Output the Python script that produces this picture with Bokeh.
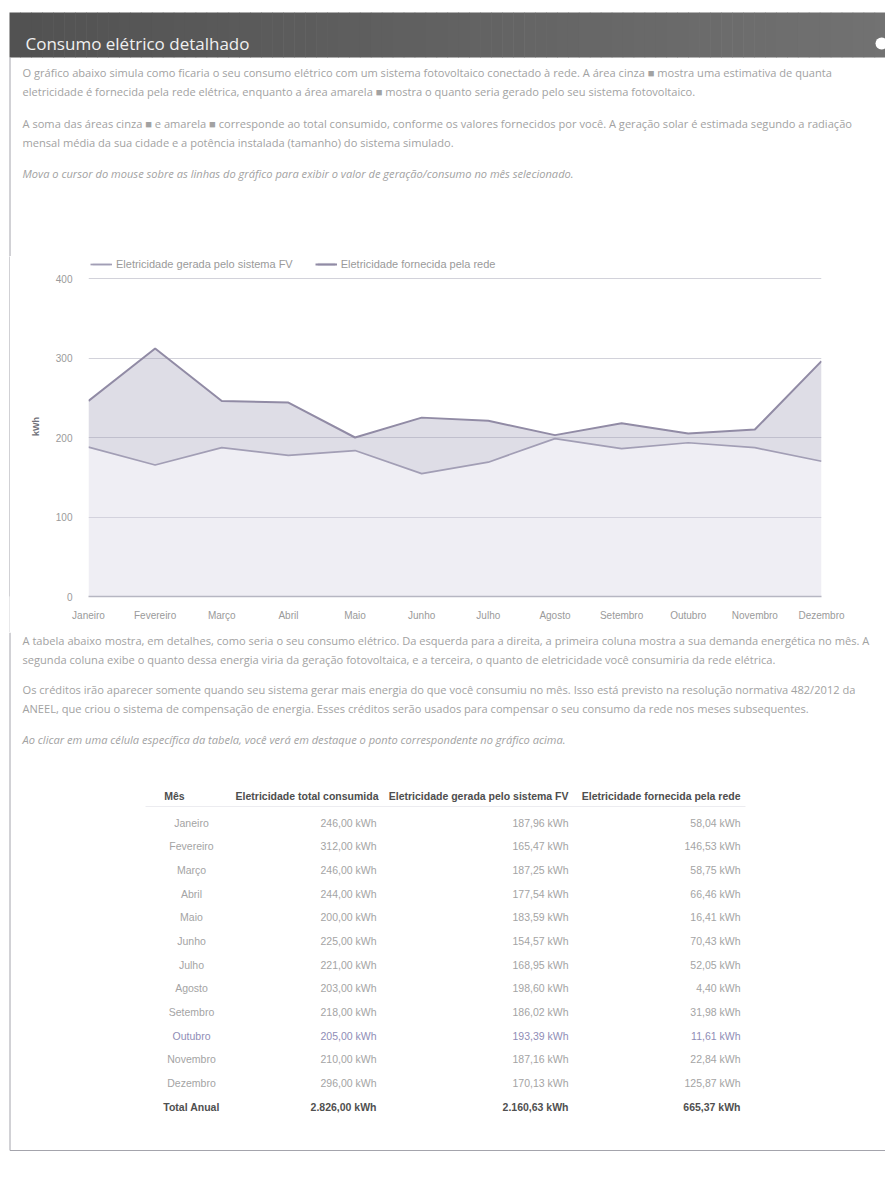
import numpy as np
from bokeh.plotting import figure
from bokeh.models import Range1d, FixedTicker, Legend, LegendItem, ColumnDataSource, Spacer
from bokeh.layouts import column, row
from bokeh.embed import file_html
from bokeh.resources import INLINE
from bokeh.core.properties import value

# ---------------- data ----------------
months = ["Janeiro", "Fevereiro", "Março", "Abril", "Maio", "Junho", "Julho",
          "Agosto", "Setembro", "Outubro", "Novembro", "Dezembro"]
consumo = [246.00, 312.00, 246.00, 244.00, 200.00, 225.00, 221.00, 203.00, 218.00, 205.00, 210.00, 296.00]
geracao = [187.96, 165.47, 187.25, 177.54, 183.59, 154.57, 168.95, 198.60, 186.02, 193.39, 187.16, 170.13]
rede = [58.04, 146.53, 58.75, 66.46, 16.41, 70.43, 52.05, 4.40, 31.98, 11.61, 22.84, 125.87]
y_ticks = [0, 100, 200, 300, 400]
y_title = "kWh"
legend_labels = ["Eletricidade gerada pelo sistema FV", "Eletricidade fornecida pela rede"]
table_headers = ["Mês", "Eletricidade total consumida", "Eletricidade gerada pelo sistema FV",
                 "Eletricidade fornecida pela rede"]
total_label = "Total Anual"
panel_title = "Consumo elétrico detalhado"
intro_lines = [
    "O gráfico abaixo simula como ficaria o seu consumo elétrico com um sistema fotovoltaico conectado à rede. A área cinza ■ mostra uma estimativa de quanta",
    "eletricidade é fornecida pela rede elétrica, enquanto a área amarela ■ mostra o quanto seria gerado pelo seu sistema fotovoltaico.",
    "A soma das áreas cinza ■ e amarela ■ corresponde ao total consumido, conforme os valores fornecidos por você. A geração solar é estimada segundo a radiação",
    "mensal média da sua cidade e a potência instalada (tamanho) do sistema simulado.",
]
intro_italic = "Mova o cursor do mouse sobre as linhas do gráfico para exibir o valor de geração/consumo no mês selecionado."
table_lines = [
    "A tabela abaixo mostra, em detalhes, como seria o seu consumo elétrico. Da esquerda para a direita, a primeira coluna mostra a sua demanda energética no mês. A",
    "segunda coluna exibe o quanto dessa energia viria da geração fotovoltaica, e a terceira, o quanto de eletricidade você consumiria da rede elétrica.",
    "Os créditos irão aparecer somente quando seu sistema gerar mais energia do que você consumiu no mês. Isso está previsto na resolução normativa 482/2012 da",
    "ANEEL, que criou o sistema de compensação de energia. Esses créditos serão usados para compensar o seu consumo da rede nos meses subsequentes.",
]
table_italic = "Ao clicar em uma célula específica da tabela, você verá em destaque o ponto correspondente no gráfico acima."

# ---------------- styling ----------------
W = 885
FONT = "Open Sans"
TFONT = "Liberation Sans"
BORDER = "#a4a4ac"
PTXT = "#a2a2a2"
PSIZE = "11.1px"


def fmt(v):
    s = f"{v:,.2f}"
    return s.replace(",", "#").replace(".", ",").replace("#", ".") + " kWh"


def canvas(w, h):
    p = figure(width=w, height=h, x_range=Range1d(0, w), y_range=Range1d(h, 0),
               output_backend="svg", toolbar_location=None, min_border=0,
               x_axis_location=None, y_axis_location=None, outline_line_color=None)
    p.xgrid.visible = False
    p.ygrid.visible = False
    return p


# ---------------- top: header + intro ----------------
S = 256            # page y of chart top
H1 = S
top = canvas(W, H1)
n = 80
xs = np.linspace(9, W, n + 1)
shades = [int(0x52 + (0x72 - 0x52) * i / (n - 1)) for i in range(n)]
top.quad(left=xs[:-1], right=xs[1:] + 0.6, top=12, bottom=57,
         fill_color=[f"#{c:02x}{c:02x}{c:02x}" for c in shades], line_color=None)
top.text(x=[25], y=[43], text=[panel_title], text_font=value(FONT), text_font_size="17px",
         text_color="#f0f0f0", text_baseline="middle")
top.circle(x=[881], y=[43], radius=6, fill_color="white", line_color=None)
top.segment(x0=[9.5], y0=[57], x1=[9.5], y1=[H1], line_color=BORDER, line_width=1)
top.text(x=22, y=[72, 91, 123, 142], text=intro_lines, text_font=value(FONT),
         text_font_size=PSIZE, text_color=PTXT, text_baseline="middle")
top.text(x=[22], y=[173], text=[intro_italic], text_font=value(FONT), text_font_style="italic",
         text_font_size=PSIZE, text_color=PTXT, text_baseline="middle")

# ---------------- chart ----------------
ZERO = 596         # page y of value 0
PPU = (596 - 278) / 400.0
H2 = 632 - S
CW = W - 10
y_end = (ZERO - S) / PPU
FL, FR = 88, 821   # page x of frame left / right

chart = figure(width=CW, height=H2, x_range=Range1d(0, len(months) - 1), y_range=Range1d(0, y_end),
               output_backend="svg", toolbar_location=None,
               min_border_left=FL - 10, min_border_right=W - FR, min_border_top=0,
               min_border_bottom=H2 - (ZERO - S), outline_line_color=None)

x = list(range(len(months)))
src = ColumnDataSource(dict(x=x, gen=geracao, total=[g + r for g, r in zip(geracao, rede)]))

gen_area = chart.varea(x="x", y1=0, y2="gen", source=src, fill_color="#d4d1e2", fill_alpha=0.38)
grid_area = chart.varea(x="x", y1="gen", y2="total", source=src, fill_color="#9c97b3", fill_alpha=0.33)
gen_line = chart.line("x", "gen", source=src, line_color="#a29eb5", line_width=1.7)
tot_line = chart.line("x", "total", source=src, line_color="#918ba5", line_width=2)

chart.xgrid.visible = False
chart.ygrid.ticker = FixedTicker(ticks=y_ticks)
chart.ygrid.grid_line_color = "#d2d2da"
chart.yaxis.ticker = FixedTicker(ticks=y_ticks)
chart.yaxis.axis_line_color = None
chart.yaxis.major_tick_line_color = None
chart.yaxis.minor_tick_line_color = None
chart.yaxis.major_label_standoff = 10
chart.yaxis.major_label_text_font = TFONT
chart.yaxis.major_label_text_font_size = "10px"
chart.yaxis.major_label_text_color = "#9a9a9a"
chart.yaxis.axis_label = y_title
chart.yaxis.axis_label_text_font = TFONT
chart.yaxis.axis_label_text_font_size = "9px"
chart.yaxis.axis_label_text_font_style = "bold"
chart.yaxis.axis_label_text_color = "#707078"
chart.yaxis.axis_label_standoff = 12

chart.xaxis.ticker = FixedTicker(ticks=x)
chart.xaxis.major_label_overrides = {i: m for i, m in enumerate(months)}
chart.xaxis.axis_line_color = "#b6b6c2"
chart.xaxis.axis_line_width = 1.5
chart.xaxis.major_tick_line_color = None
chart.xaxis.minor_tick_line_color = None
chart.xaxis.major_label_standoff = 7
chart.xaxis.major_label_text_font = TFONT
chart.xaxis.major_label_text_font_size = "10px"
chart.xaxis.major_label_text_color = "#9a9a9a"

legend = Legend(items=[LegendItem(label=legend_labels[0], renderers=[gen_area, gen_line]),
                       LegendItem(label=legend_labels[1], renderers=[grid_area, tot_line])],
                location="top_left", orientation="horizontal", margin=2, padding=0,
                spacing=22, glyph_width=22, glyph_height=4, label_standoff=4, label_height=10,
                label_text_font=TFONT, label_text_font_size="11px", label_text_color="#9a9a9a",
                border_line_color=None, background_fill_alpha=0)
chart.add_layout(legend)

bar = figure(width=1, height=H2, x_range=Range1d(0, 1), y_range=Range1d(0, 1),
             output_backend="svg", toolbar_location=None, min_border=0,
             x_axis_location=None, y_axis_location=None, outline_line_color=None,
             background_fill_color=BORDER, border_fill_color=BORDER)
bar.xgrid.visible = False
bar.ygrid.visible = False

# ---------------- bottom: text + table ----------------
B0 = 632
H3 = 546
bot = canvas(W, H3)
bot.segment(x0=[9.5], y0=[0], x1=[9.5], y1=[1150 - B0], line_color=BORDER, line_width=1)
bot.segment(x0=[9.5], y0=[1150 - B0], x1=[W], y1=[1150 - B0], line_color=BORDER, line_width=1)
bot.text(x=22, y=[640 - B0, 659 - B0, 689 - B0, 708 - B0], text=table_lines, text_font=value(FONT),
         text_font_size=PSIZE, text_color=PTXT, text_baseline="middle")
bot.text(x=[22], y=[739 - B0], text=[table_italic], text_font=value(FONT), text_font_style="italic",
         text_font_size=PSIZE, text_color=PTXT, text_baseline="middle")

HY = 795 - B0
R0 = 822 - B0
RS = 23.67
COLX = [376, 568, 740]
bot.text(x=[174], y=[HY], text=[table_headers[0]], text_font=value(TFONT), text_font_style="bold",
         text_font_size="10.5px", text_color="#4e4e4e", text_baseline="middle", text_align="center")
bot.text(x=[378, 568, 740], y=[HY] * 3, text=table_headers[1:], text_font=value(TFONT),
         text_font_style="bold", text_font_size="10.5px", text_color="#4e4e4e",
         text_baseline="middle", text_align="right")
bot.segment(x0=[145], y0=[HY + 11], x1=[745], y1=[HY + 11], line_color="#ececf0", line_width=1)

rows_y = [R0 + i * RS for i in range(len(months))]
row_colors = ["#8f8db6" if m == "Outubro" else "#a4a4a4" for m in months]
tsrc = ColumnDataSource(dict(
    y=rows_y, mes=months, c=[fmt(v) for v in consumo], g=[fmt(v) for v in geracao],
    r=[fmt(v) for v in rede], col=row_colors))
bot.text(x=191, y="y", text="mes", source=tsrc, text_font=value(TFONT), text_font_size="10.5px",
         text_color="col", text_baseline="middle", text_align="center")
for xx, key in zip(COLX, ["c", "g", "r"]):
    bot.text(x=xx, y="y", text=key, source=tsrc, text_font=value(TFONT), text_font_size="10.5px",
             text_color="col", text_baseline="middle", text_align="right")

ty = R0 + len(months) * RS
bot.text(x=[191], y=[ty], text=[total_label], text_font=value(TFONT), text_font_style="bold",
         text_font_size="10.5px", text_color="#505050", text_baseline="middle", text_align="center")
bot.text(x=COLX, y=[ty] * 3, text=[fmt(sum(consumo)), fmt(sum(geracao)), fmt(sum(rede))],
         text_font=value(TFONT), text_font_style="bold", text_font_size="10.5px",
         text_color="#505050", text_baseline="middle", text_align="right")

layout = column(top, row(Spacer(width=9, height=H2), bar, chart), bot)
open("out.html", "w").write(file_html(layout, INLINE))
